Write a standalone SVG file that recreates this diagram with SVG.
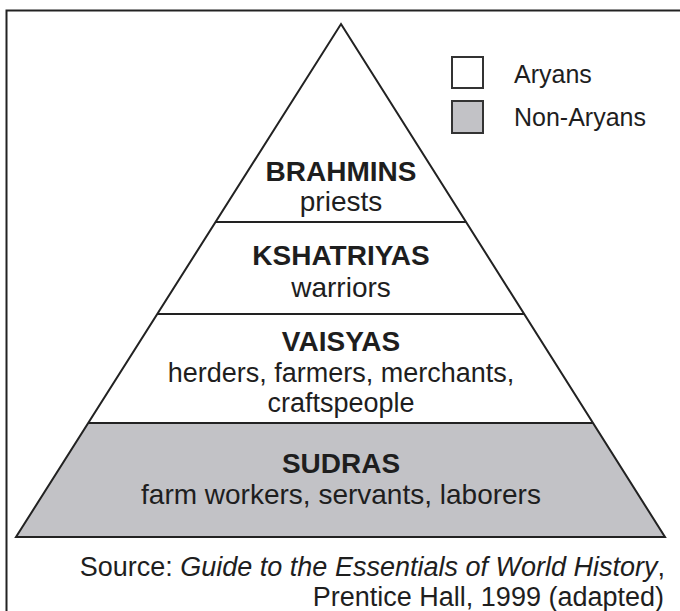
<svg xmlns="http://www.w3.org/2000/svg" width="680" height="611" viewBox="0 0 680 611">
<style>
.edge{fill:none;stroke:#222;stroke-width:2;stroke-linejoin:miter}
.band{stroke:none}
.white{fill:#ffffff}
.gray{fill:#c2c2c6}
.h{font-family:"Liberation Sans",Arial,sans-serif;font-weight:bold;font-size:28px;fill:#1e1e1e;text-anchor:middle}
.t{font-family:"Liberation Sans",Arial,sans-serif;font-size:28px;fill:#1e1e1e;text-anchor:middle}
.t2{font-family:"Liberation Sans",Arial,sans-serif;font-size:27px;fill:#1e1e1e;text-anchor:middle}
.lg{font-family:"Liberation Sans",Arial,sans-serif;font-size:25px;fill:#1e1e1e}
.src{font-family:"Liberation Sans",Arial,sans-serif;font-size:27px;fill:#1e1e1e;text-anchor:end}
.box{stroke:#333;stroke-width:2}
</style>
<rect x="0" y="0" width="680" height="611" fill="#ffffff"/>
<g id="frame">
<path class="edge" d="M680 10.5 H6.5 V611"/>
</g>
<g id="brahmins">
<polygon class="band white" points="341,24 466,222 215.6,222"/>
<text class="h" x="341" y="181">BRAHMINS</text>
<text class="t" x="341" y="211">priests</text>
</g>
<g id="kshatriyas">
<polygon class="band white" points="215.6,222 466,222 524.2,314 157.3,314"/>
<text class="h" x="341" y="265">KSHATRIYAS</text>
<text class="t" x="341" y="297">warriors</text>
</g>
<g id="vaisyas">
<polygon class="band white" points="157.3,314 524.2,314 593,423 88.2,423"/>
<text class="h" x="341" y="351">VAISYAS</text>
<text class="t2" x="341" y="382">herders, farmers, merchants,</text>
<text class="t2" x="341" y="412">craftspeople</text>
</g>
<g id="sudras">
<polygon class="band gray" points="88.2,423 593,423 665,537 16,537"/>
<text class="h" x="341" y="473">SUDRAS</text>
<text class="t" x="341" y="504">farm workers, servants, laborers</text>
</g>
<g id="connectors">
<polygon class="edge" points="341,24 665,537 16,537"/>
<line class="edge" x1="215.6" y1="222" x2="466" y2="222"/>
<line class="edge" x1="157.3" y1="314" x2="524.2" y2="314"/>
<line class="edge" x1="88.2" y1="423" x2="593" y2="423"/>
</g>
<g id="legend-aryans">
<rect class="box white" x="452" y="57" width="31" height="31"/>
<text class="lg" x="514" y="83">Aryans</text>
</g>
<g id="legend-nonaryans">
<rect class="box gray" x="452" y="101" width="31" height="32"/>
<text class="lg" x="514" y="126">Non-Aryans</text>
</g>
<g id="source">
<text class="src" x="665" y="576">Source: <tspan font-style="italic">Guide to the Essentials of World History</tspan>,</text>
<text class="src" x="664" y="606">Prentice Hall, 1999 (adapted)</text>
</g>
</svg>
